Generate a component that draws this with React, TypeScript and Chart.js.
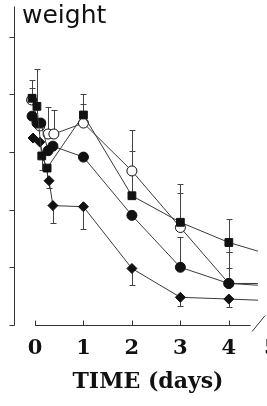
import React, { useEffect, useRef } from "react";
import { Chart, registerables } from "chart.js";

Chart.register(...registerables);

// ---- text ----
const panelLabel = "weight";
const xTitle = "TIME (days)";
const xTickValues = [0, 1, 2, 3, 4, 5];
const yTickValues = [0, 1, 2, 3, 4, 5];

// ---- series: open circles ----
const ocT = [-0.07, 0.1, 0.27, 0.39, 1, 2, 3, 4, 4.6];
const ocV = [3.9, 3.45, 3.31, 3.31, 3.5, 2.67, 1.69, 0.72, 0.69];
const ocUp = [0.2, 0, 0.47, 0.41, 0.33, 0.71, 0.6, 0.54, 0];
const ocDn = [0, 0, 0, 0, 0, 0, 0, 0, 0];

// ---- series: diamonds ----
const dmT = [-0.04, 0.1, 0.29, 0.37, 1, 2, 3, 4, 4.6];
const dmV = [3.24, 3.17, 2.5, 2.07, 2.05, 0.98, 0.48, 0.45, 0.43];
const dmUp = [0, 0, 0, 0, 0, 0, 0, 0, 0];
const dmDn = [0, 0, 0.12, 0.31, 0.38, 0.29, 0.15, 0.14, 0];

// ---- series: filled circles ----
const fcT = [-0.06, 0.04, 0.12, 0.27, 0.37, 1, 2, 3, 4, 4.6];
const fcV = [3.62, 3.5, 3.5, 3.02, 3.1, 2.91, 1.9, 1.0, 0.72, 0.72];
const fcUp = [0, 0, 0, 0, 0, 0, 0, 0.52, 0.26, 0];
const fcDn = [0, 0, 0, 0, 0, 0, 0, 0, 0, 0];

// ---- series: filled squares ----
const sqT = [-0.06, 0.04, 0.14, 0.25, 1, 2, 3, 4, 4.6];
const sqV = [3.93, 3.79, 2.93, 2.72, 3.64, 2.24, 1.78, 1.43, 1.28];
const sqUp = [0.31, 0.64, 0, 0, 0.36, 0.78, 0.67, 0.4, 0];
const sqDn = [0, 0, 0.25, 0.2, 0, 0, 0, 0.17, 0];

const lastPlotted = [4.6];

const INK = "#111";
const LINE = "#3a3a3a";

function pts(t: number[], v: number[]) {
  return t.map((x, i) => ({ x, y: v[i] }));
}

const errSets = [
  { t: ocT, v: ocV, up: ocUp, dn: ocDn },
  { t: dmT, v: dmV, up: dmUp, dn: dmDn },
  { t: fcT, v: fcV, up: fcUp, dn: fcDn },
  { t: sqT, v: sqV, up: sqUp, dn: sqDn },
];

const errorBarPlugin = {
  id: "errorBars",
  beforeDatasetsDraw(chart: any) {
    const { ctx, scales } = chart;
    const xs = scales.x;
    const ys = scales.y;
    ctx.save();
    ctx.strokeStyle = "#444";
    ctx.lineWidth = 1;
    errSets.forEach((s) => {
      s.t.forEach((t, i) => {
        if (t > lastPlotted[0] - 0.01) return;
        const px = Math.round(xs.getPixelForValue(t)) + 0.5;
        const py = ys.getPixelForValue(s.v[i]);
        const draw = (d: number) => {
          if (!d) return;
          const ey = Math.round(ys.getPixelForValue(s.v[i] + d)) + 0.5;
          ctx.beginPath();
          ctx.moveTo(px, py);
          ctx.lineTo(px, ey);
          ctx.moveTo(px - 3, ey);
          ctx.lineTo(px + 3, ey);
          ctx.stroke();
        };
        draw(s.up[i]);
        draw(-s.dn[i]);
      });
    });
    ctx.restore();
  },
};

const axesPlugin = {
  id: "customAxes",
  afterDraw(chart: any) {
    const { ctx, scales, chartArea } = chart;
    const xs = scales.x;
    const ys = scales.y;
    ctx.save();
    ctx.strokeStyle = "#333";
    ctx.lineWidth = 1;
    // y axis
    const ax = Math.round(chartArea.left) + 0.5;
    const yBottom = Math.round(ys.getPixelForValue(0)) + 0.5;
    ctx.beginPath();
    ctx.moveTo(ax, chartArea.top);
    ctx.lineTo(ax, yBottom);
    yTickValues.forEach((v) => {
      const y = Math.round(ys.getPixelForValue(v)) + 0.5;
      ctx.moveTo(ax - 5, y);
      ctx.lineTo(ax, y);
    });
    ctx.stroke();

    // x axis (offset, starts at 0)
    const x0 = xs.getPixelForValue(0);
    const xBreak = xs.getPixelForValue(4.45);
    ctx.beginPath();
    ctx.moveTo(x0, yBottom);
    ctx.lineTo(xBreak, yBottom);
    xTickValues.forEach((v) => {
      if (v > 4) return;
      const x = Math.round(xs.getPixelForValue(v)) + 0.5;
      ctx.moveTo(x, yBottom);
      ctx.lineTo(x, yBottom - 5);
    });
    // break mark
    const bx = xs.getPixelForValue(4.48);
    ctx.moveTo(bx, yBottom + 6);
    ctx.lineTo(bx + 13, yBottom - 10);
    ctx.stroke();

    // tick labels
    ctx.fillStyle = "#111";
    ctx.font = "bold 21px 'DejaVu Serif'";
    ctx.textAlign = "center";
    ctx.textBaseline = "middle";
    xTickValues.forEach((v) => {
      const x = xs.getPixelForValue(v) + (v === 5 ? -6 : 0);
      ctx.fillText(String(v), x, yBottom + 23);
    });

    // axis title
    ctx.font = "bold 22px 'DejaVu Serif'";
    ctx.fillText(xTitle, 148, 382);

    // panel label
    ctx.font = "25px 'DejaVu Sans'";
    ctx.textAlign = "left";
    ctx.textBaseline = "alphabetic";
    ctx.fillText(panelLabel, 22, 23);
    ctx.restore();
  },
};

export default function App() {
  const ref = useRef<HTMLCanvasElement | null>(null);

  useEffect(() => {
    if (!ref.current) return;
    const common = {
      borderColor: LINE,
      borderWidth: 1,
      pointBorderColor: INK,
      pointBorderWidth: 1,
      tension: 0,
      showLine: true,
    };
    // Chart.js paints dataset 0 last (on top), so the top-most series comes first.
    const chart = new Chart(ref.current, {
      type: "line",
      data: {
        datasets: [
          {
            ...common,
            label: "squares",
            data: pts(sqT, sqV),
            pointStyle: "rect",
            pointRadius: 5.5,
            pointBackgroundColor: INK,
          },
          {
            ...common,
            label: "filled circles",
            data: pts(fcT, fcV),
            pointStyle: "circle",
            pointRadius: 5,
            pointBackgroundColor: INK,
          },
          {
            ...common,
            label: "diamonds",
            data: pts(dmT, dmV),
            pointStyle: "rectRot",
            pointRadius: 5,
            pointBackgroundColor: INK,
          },
          {
            ...common,
            label: "open circles",
            data: pts(ocT, ocV),
            pointStyle: "circle",
            pointRadius: 5,
            pointBackgroundColor: "#fff",
          },
        ].map((d: any) => ({
          ...d,
          pointRadius: d.data.map((p: any) => (p.x > lastPlotted[0] - 0.01 ? 0 : d.pointRadius)),
        })),
      },
      options: {
        responsive: false,
        animation: false,
        events: [],
        layout: { padding: { left: 14, top: 5, right: 13, bottom: 81 } },
        plugins: {
          legend: { display: false },
          tooltip: { enabled: false },
        },
        scales: {
          x: { type: "linear", min: -0.433, max: 5.2, display: false },
          y: { type: "linear", min: 0, max: 5.52, display: false },
        },
      },
      plugins: [errorBarPlugin, axesPlugin],
    });
    return () => chart.destroy();
  }, []);

  return (
    <div
      style={{
        position: "fixed",
        left: 0,
        top: 0,
        width: 267,
        height: 406,
        overflow: "hidden",
        background: "#fff",
      }}
    >
      <canvas ref={ref} width={300} height={406} style={{ display: "block", width: 300, height: 406 }} />
    </div>
  );
}
